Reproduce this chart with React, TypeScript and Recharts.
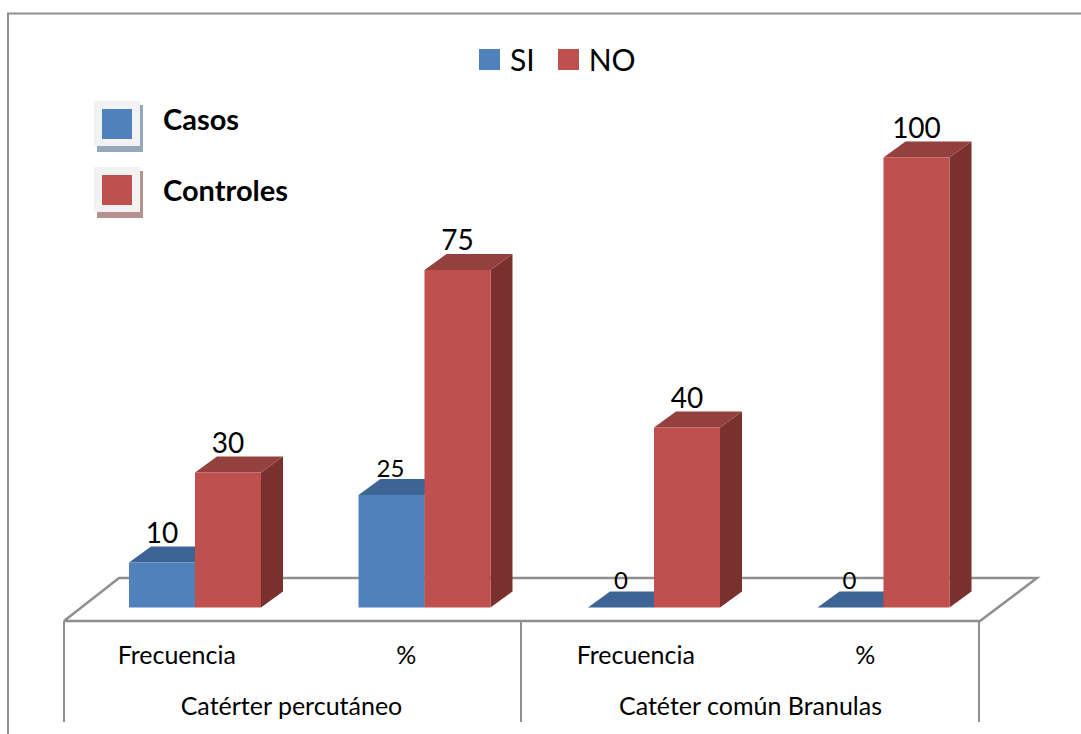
import { BarChart, Bar, XAxis, YAxis, Legend, LabelList, Customized } from "recharts";

const medidas = ["Frecuencia", "%", "Frecuencia", "%"];
const grupos = ["Catérter percutáneo", "Catérter percutáneo", "Catéter común Branulas", "Catéter común Branulas"];
const si = [10, 25, 0, 0];
const no = [30, 75, 40, 100];

const rows = medidas.map((medida, i) => ({ key: i, medida, grupo: grupos[i], si: si[i], no: no[i] }));

const FONT = "Lato, sans-serif";
const BLUE = "#4f81bd";
const RED = "#c0504d";
const LINE = "#8f8f8f";
const DEPTH_X = 22;
const DEPTH_Y = 16;
const AXIS_SHIFT = -18;
const ROW_MEDIDA = 654;
const ROW_GRUPO = 705;

// column with a top and a side face
function Column({ x, y, width, height, fill, top, side }: any) {
  const r = x + width;
  const b = y + height;
  return (
    <g>
      <polygon points={`${r},${y} ${r + DEPTH_X},${y - DEPTH_Y} ${r + DEPTH_X},${b - DEPTH_Y} ${r},${b}`} fill={side} />
      <polygon points={`${x},${y} ${x + DEPTH_X},${y - DEPTH_Y} ${r + DEPTH_X},${y - DEPTH_Y} ${r},${y}`} fill={top} />
      <rect x={x} y={y} width={width} height={height} fill={fill} />
    </g>
  );
}

const nudgeSi = [0, -1, 0, -1];

function SiLabel({ x, y, width, value, index }: any) {
  const big = index === 0;
  return (
    <text
      x={x + width / 2 + nudgeSi[index]}
      y={y - (big ? 31 : 28)}
      textAnchor="middle"
      dominantBaseline="central"
      fontFamily={FONT}
      fontSize={big ? 28 : 24}
      fill="#000"
    >
      {value}
    </text>
  );
}

function NoLabel({ x, y, width, value }: any) {
  return (
    <text x={x + width / 2} y={y - 31} textAnchor="middle" dominantBaseline="central" fontFamily={FONT} fontSize={28} fill="#000">
      {value}
    </text>
  );
}

function AxisTick({ x, y, value }: any) {
  return (
    <text x={x + AXIS_SHIFT} y={y} textAnchor="middle" dominantBaseline="central" fontFamily={FONT} fontSize={25} fill="#000">
      {value}
    </text>
  );
}

function TopLegend({ payload }: any) {
  return (
    <div style={{ display: "flex", alignItems: "center", fontFamily: FONT, fontSize: 30, color: "#000" }}>
      {payload.map((item: any) => (
        <span key={item.value} style={{ display: "flex", alignItems: "center", marginRight: 23 }}>
          <span style={{ width: 21, height: 21, background: item.color, marginRight: 10 }} />
          {item.value}
        </span>
      ))}
    </div>
  );
}

function KeyBox({ y, textY, fill, shadow, text }: any) {
  return (
    <g>
      <rect x={97} y={y + 4} width={46} height={47} fill={shadow} />
      <rect x={94} y={y} width={46} height={45} fill="#f2f2f2" />
      <rect x={102} y={y + 8} width={30} height={30} fill={fill} />
      <text x={163} y={textY} dominantBaseline="central" fontFamily={FONT} fontWeight={700} fontSize={29} fill="#000">
        {text}
      </text>
    </g>
  );
}

// outer frame, floor, category dividers and the text key
function Backdrop() {
  return (
    <g>
      <path d="M8,734 V13.5 H1081" fill="none" stroke={LINE} strokeWidth={2} />
      <path d="M64,621 L119,578 H1037 L980,621 H64" fill="none" stroke={LINE} strokeWidth={2.5} />
      <path d="M64,621 V722 M521,621 V722 M979,621 V722" fill="none" stroke={LINE} strokeWidth={2} />
      <KeyBox y={101} textY={118.5} fill={BLUE} shadow="#95a7bd" text="Casos" />
      <KeyBox y={167} textY={189} fill={RED} shadow="#b59190" text="Controles" />
    </g>
  );
}

export default function App() {
  return (
    <div style={{ position: "absolute", left: 0, top: 0, width: 1081, height: 734, background: "#fff" }}>
      <BarChart
        width={1081}
        height={734}
        data={rows}
        barGap={0}
        barSize={66}
        barCategoryGap={0}
        margin={{ top: 157.5, right: 83, bottom: 26.5, left: 80 }}
      >
        <Customized component={Backdrop} />
        <XAxis dataKey="key" hide />
        <XAxis
          xAxisId="medida"
          dataKey="key"
          height={50}
          axisLine={false}
          tickLine={false}
          tick={({ x, index }: any) => <AxisTick x={x} y={ROW_MEDIDA} value={medidas[index]} />}
        />
        <XAxis
          xAxisId="grupo"
          dataKey="grupo"
          allowDuplicatedCategory={false}
          height={50}
          axisLine={false}
          tickLine={false}
          tick={({ x, payload }: any) => <AxisTick x={x} y={ROW_GRUPO} value={payload.value} />}
        />
        <YAxis hide domain={[0, 100]} />
        <Legend
          verticalAlign="middle"
          align="center"
          layout="horizontal"
          itemSorter={null}
          wrapperStyle={{ position: "absolute", left: 479, top: 41, width: 200 }}
          content={<TopLegend />}
        />
        <Bar
          dataKey="si"
          name="SI"
          fill={BLUE}
          isAnimationActive={false}
          shape={(p: any) => <Column {...p} top="#3c6494" side="#3c6494" />}
        >
          <LabelList dataKey="si" content={<SiLabel />} />
        </Bar>
        <Bar
          dataKey="no"
          name="NO"
          fill={RED}
          isAnimationActive={false}
          shape={(p: any) => <Column {...p} top="#94403e" side="#7a302f" />}
        >
          <LabelList dataKey="no" content={<NoLabel />} />
        </Bar>
      </BarChart>
    </div>
  );
}
